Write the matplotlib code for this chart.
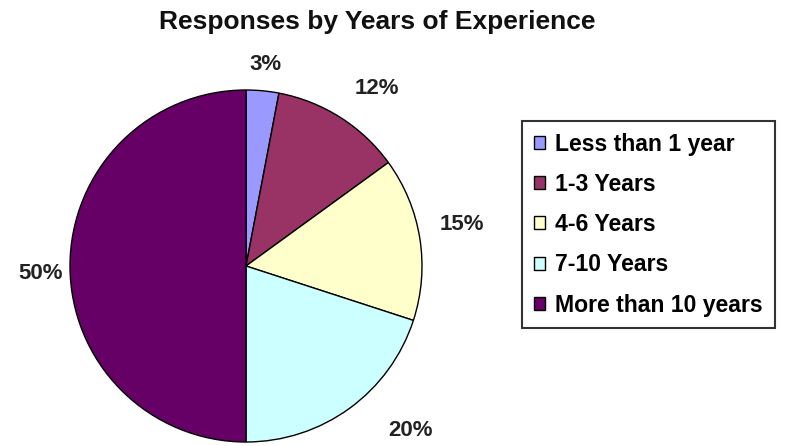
import numpy as np
import matplotlib.pyplot as plt

# data
categories = ['Less than 1 year', '1-3 Years', '4-6 Years', '7-10 Years', 'More than 10 years']
shares = [3, 12, 15, 20, 50]
pct_labels = ['3%', '12%', '15%', '20%', '50%']
sliceColors = ['#9999FF', '#993366', '#FFFFCC', '#CCFFFF', '#660066']
# label placement tweaks (distance from centre in radii, angle shift in degrees)
labelDist = [1.15, 1.25, 1.25, 1.32, 1.17]
labelShift = [0, -4, 2, 9, 2]

plt.rcParams['font.family'] = ['Liberation Sans', 'DejaVu Sans']

fig = plt.figure(figsize=[7.89, 4.46], dpi=100)
ax = fig.add_axes([70/789, 4/446, 352/789, 352/446])

wedges, texts = ax.pie(shares, colors=sliceColors, startangle=90, counterclock=False,
                       labels=pct_labels, labeldistance=1.2,
                       wedgeprops=dict(edgecolor='black', linewidth=1),
                       textprops=dict(fontsize=16, fontweight='bold', color='#222222'))

# move each label along its wedge direction
for w, t, d, s in zip(wedges, texts, labelDist, labelShift):
    ang = np.deg2rad((w.theta1 + w.theta2) / 2 + s)
    t.set_position((d * np.cos(ang), d * np.sin(ang)))
    t.set_ha('center')
    t.set_va('center')

ax.set_xlim(-1, 1)
ax.set_ylim(-1, 1)
ax.set_aspect('equal')

fig.text(377/789, 1 - 22/446, 'Responses by Years of Experience', ha='center', va='center',
         fontsize=19, fontweight='bold', color='#111111')

leg = fig.legend(wedges, categories, loc='upper left', bbox_to_anchor=(522/789, 1 - 121/446),
                 prop=dict(weight='bold', size=16.6), frameon=True, fancybox=False,
                 handlelength=0.5, handleheight=0.5, handletextpad=0.45, labelspacing=0.75,
                 borderpad=0.5, borderaxespad=0)
leg.get_frame().set_edgecolor('black')
leg.get_frame().set_linewidth(1.5)
for h in leg.legend_handles:
    h.set_edgecolor('black')
    h.set_linewidth(1)

fig.savefig('out.png', dpi=100)
